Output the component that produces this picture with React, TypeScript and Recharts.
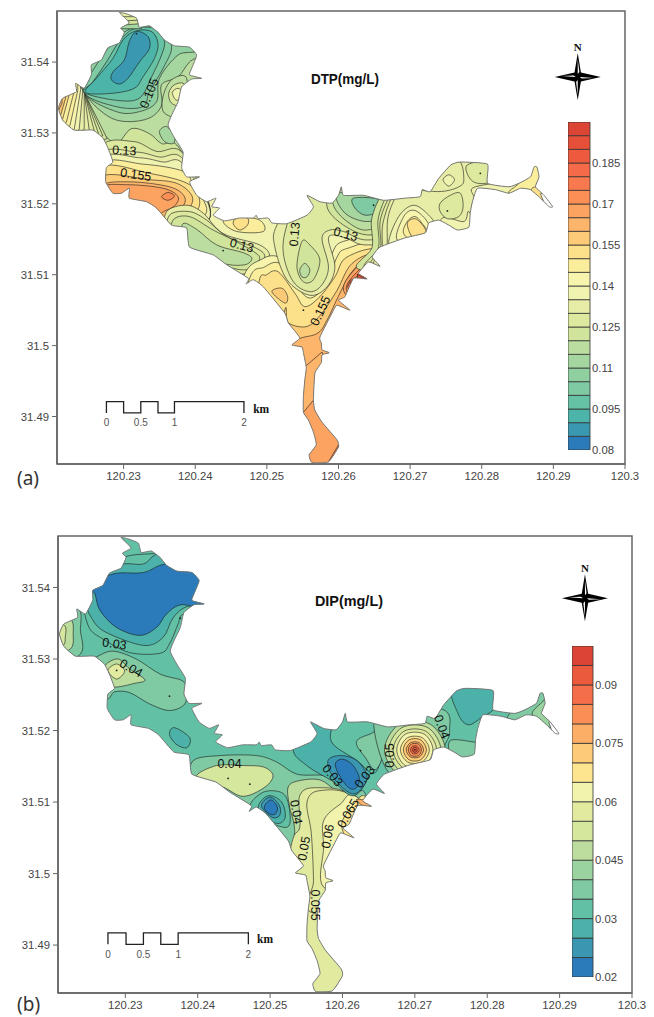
import React from 'react';
import { ScatterChart, Scatter, XAxis, YAxis, ReferenceArea, BarChart, Bar } from 'recharts';

// All map geometry is in units of 0.0001 degree, measured from 120.20E / 31.48N.
const BASE_LON = 120.2;
const BASE_LAT = 31.48;

const lonTicks = [120.23, 120.24, 120.25, 120.26, 120.27, 120.28, 120.29, 120.3];
const latTicks = [31.49, 31.5, 31.51, 31.52, 31.53, 31.54];
const lonDomain = [120.2207, 120.3];
const latDomain = [31.4833, 31.5472];

const lakeOutline = [294,670,304,668,318,662,322,649,336,651,348,642,357,631,371,623,392,621,402,610,397,596,392,582,409,577,395,576,381,565,376,544,367,525,362,511,371,493,383,473,381,451,388,438,406,438,392,431,402,412,416,403,429,408,423,396,434,394,425,384,441,376,462,380,481,380,485,384,488,379,502,380,507,373,528,372,556,384,565,396,556,412,574,403,591,401,600,412,604,424,607,412,635,412,663,405,693,408,714,410,717,420,728,417,740,436,757,455,770,459,808,456,808,429,838,424,852,429,868,438,873,452,877,452,880,438,875,424,887,412,899,396,894,396,882,408,868,420,854,422,838,415,819,420,794,422,787,403,784,388,782,367,766,363,754,370,740,377,726,373,721,359,693,352,658,339,647,325,658,312,642,318,628,302,640,294,621,295,609,269,600,264,616,250,598,257,593,250,574,212,576,204,577,194,587,190,577,187,576,176,567,161,565,123,567,109,577,92,598,67,600,57,586,36,563,35,559,46,569,60,565,78,558,95,551,106,551,128,553,152,555,169,551,190,549,198,535,201,546,211,530,232,525,246,495,283,481,293,471,287,474,295,444,314,425,328,392,339,388,366,367,370,346,394,332,403,308,408,308,422,297,415,285,415,275,431,276,451,285,459,278,479,271,493,257,504,231,504,215,518,209,535,215,549,234,558,233,570,245,563,255,582,255,596,269,603,278,620,294,627,301,642,296,648,308,655,301,663];

const dtpBandColors = ['#2b7bba','#3a98b0','#4cb4a8','#66c2a5','#7fc9a3','#90cfa0','#a6d69f','#bbdd9f','#d0e49c','#dde99f','#e7eda6','#f0f2b0','#f7f4ae','#faee9c','#fde08a','#fdcb78','#fdb56c','#fca362','#fb8f55','#f9794f','#f56a48','#ee5a3e','#e65039','#dc4535'];
const dipBandColors = ['#2b7bba','#3b96b1','#4cb2a9','#62c1a5','#7fc9a3','#9bd3a0','#bcdd9e','#d5e69d','#e2ea9f','#f2f3ad','#fde48f','#fdca78','#fcae66','#fa8f55','#f46e4a','#eb5a3c','#dc4535'];

type Layer = [number, number[], boolean?];

const sharedClose = [420,380,336,351,243,380];
const dtpLayers: Layer[] = [
  [7,[196,680,504,680,504,469,243,469,196,500],true],
  [8,[262,492,290,485,311,506,336,499,353,485,378,478,...sharedClose]],
  [6,[350,502,360,509,371,495,369,485,357,488]],
  [9,[266,478,313,488,346,474,383,471,...sharedClose]],
  [10,[266,469,318,473,350,466,383,463,...sharedClose]],
  [11,[266,463,322,465,355,459,383,456,...sharedClose]],
  [13,[266,456,327,456,383,446,397,427,416,389,383,365,336,351,243,380]],
  [14,[266,451,336,443,392,427,406,398,383,373,360,375,336,351,243,380]],
  [15,[266,438,336,434,374,429,395,412,392,394,369,372,336,356,243,380]],
  [16,[266,424,308,431,364,424,385,410,381,394,360,380,336,361,243,380]],
  [17,[266,422,304,427,355,422,376,410,370,396,353,387,336,365,243,380]],
  [18,[353,410,362,416,371,411,362,405]],
  // west lobe fan
  [8,[245,557,277,492,150,450,150,620,240,620],true],
  [8,[245,557,271,496,150,450,150,620,240,620],true],
  [9,[245,557,265,499,150,450,150,620,240,620],true],
  [9,[245,557,259,503,150,450,150,620,240,620],true],
  [10,[245,557,252,504,150,450,150,620,240,620],true],
  [10,[245,557,245,505,150,450,150,620,240,620],true],
  [11,[243,560,238,505,150,450,150,620,240,620],true],
  [12,[240,561,231,505,150,450,150,620,238,620],true],
  [13,[236,560,225,510,150,450,150,620,236,620],true],
  [13,[231,559,220,515,150,450,150,620,231,620],true],
  [14,[224,554,215,520,150,450,150,620,224,620],true],
  [15,[219,549,212,525,150,450,150,620,219,620],true],
  [16,[214,542,209,531,150,450,150,620,214,620],true],
  // north basin low
  [6,[245,557,276,525,304,516,336,521,353,539,353,568,376,579,392,600,420,624,355,671,266,633,224,610]],
  [5,[245,557,290,530,322,530,346,544,350,577,376,610,402,619,355,666,290,652,243,610]],
  [4,[245,557,290,537,327,537,336,558,355,591,367,622,350,647,318,650,290,633,262,596]],
  [3,[245,557,290,546,322,549,339,579,353,610,357,629,346,647,315,647,294,629,276,600,257,572]],
  [2,[247,557,285,556,315,563,327,579,343,605,348,626,339,643,317,644,299,631,285,605,262,577]],
  [1,[318,643,334,636,336,619,322,600,306,577,294,569,283,575,285,586,301,603,308,629]],
  [7,[355,551,367,575,388,577,383,525,357,528]],
  [9,[363,556,371,568,385,568,383,539,367,542]],
  [11,[368,557,376,563,382,556,374,546]],
  // north tip
  [6,[295,647,325,647,325,680,285,680],true],
  [8,[297,652,322,654,325,680,285,680],true],
  [9,[297,658,321,659,325,680,285,680],true],
  [10,[296,664,315,664,325,680,285,680],true],
  // neck and south shore
  [13,[439,375,458,382,490,377,495,361,458,361]],
  [14,[453,372,458,380,473,380,473,370,462,363]],
  [10,[360,389,388,398,411,387,439,358,490,342,504,325,490,302,458,297,388,321,360,358]],
  [9,[364,384,392,389,416,377,444,354,486,337,497,325,486,307,458,302,392,325,364,354]],
  [8,[369,377,392,382,425,363,453,349,481,333,490,323,479,309,453,309,397,330,369,349]],
  [7,[383,372,402,364,430,342,467,331,479,323,469,314,439,316,397,335,381,349]],
  [12,[465,288,495,323,521,323,539,297,560,278,579,295,591,330,607,347,663,351,719,288,644,147,458,147]],
  [13,[474,288,497,311,518,316,539,288,560,267,584,288,598,325,612,337,663,344,719,288,644,147,458,147]],
  [14,[488,283,500,300,516,304,539,274,553,255,574,269,595,297,612,325,663,335,719,288,644,147,481,147]],
  [15,[525,250,530,232,556,227,577,246,598,278,619,316,654,328,682,288,598,147,504,147]],
  [15,[507,276,521,281,529,269,525,260]],
  [16,[535,203,570,217,584,236,602,274,621,307,649,325,682,288,598,147,504,147]],
  [16,[553,170,577,191,640,20,500,20,500,100],true],
  [17,[551,106,565,123,640,60,620,20,500,20],true],
  [18,[586,36,600,60,660,60,650,10,575,10],true],
  [17,[607,278,626,311,649,323,682,316,644,250]],
  [18,[611,279,628,306,649,318,677,311,640,255]],
  [19,[613,283,630,301,647,314,668,307,635,264]],
  [21,[616,290,631,297,644,304,663,295,630,274]],
  [22,[626,301,640,293,628,290],true],
  // centre loop
  [10,[514,370,511,340,528,293,560,271,584,283,595,311,586,349,593,356,612,351,640,342,700,354,710,429,551,429]],
  [9,[528,370,523,330,537,290,560,276,577,286,586,311,577,351,588,363,607,361,640,349,691,363,710,429,551,429]],
  [8,[549,347,560,342,574,321,565,293,551,290,542,311]],
  [7,[546,307,553,316,560,307,556,297,549,297]],
  [8,[584,396,598,424,691,415,691,372,644,356,607,370]],
  [7,[593,398,600,419,672,415,677,382,640,363,612,375]],
  [6,[600,415,663,410,668,387,640,375,609,387]],
  [4,[621,408,656,406,654,389,637,384,623,394]],
  // east basin
  [8,[670,425,647,382,647,339,630,307,752,307,798,382,752,415,714,440]],
  [9,[677,425,656,382,656,339,640,307,752,307,798,382,752,415,714,440]],
  [9,[681,425,659,380,659,339,650,307,775,307,820,382,760,440,714,445]],
  [10,[684,425,663,377,661,339,658,307,798,307,845,363,892,457,728,457]],
  [10,[690,425,670,385,668,344,665,307,798,307,845,363,892,457,728,457]],
  [11,[670,344,684,382,705,398,726,384,735,368,724,351,686,330]],
  [12,[682,349,691,382,705,391,721,379,728,363,719,349]],
  [13,[691,358,696,375,707,382,717,372,724,358,710,344]],
  [14,[696,372,707,379,719,368,721,358,705,351]],
  [10,[714,424,728,418,749,418,768,424,775,434,767,462,728,462]],
  [11,[789,410,791,424,854,431,910,419,901,382,798,391]],
  [11,[745,380,775,375,782,389,794,354,742,349]],
  [9,[742,401,756,412,770,415,774,396,768,382,752,379,742,389]],
  [11,[746,434,754,441,762,434,754,425]],
  [9,[780,455,812,459,815,433,794,429,782,438]],
  [13,[838,414,853,430,882,466,920,457,910,363,868,396]],
  [14,[869,419,878,424,889,415,882,405]],
  [-1,[882,414,887,416,910,391,892,389],true],
];

const dipLayers: Layer[] = [
  [3,[242,579,250,544,269,528,306,509,348,508,361,521,373,549,380,563,417,577,412,652,348,648,292,640,250,600]],
  [2,[246,579,253,558,272,538,325,519,352,530,365,556,382,572,417,586,412,652,348,648,325,633,292,631,255,600]],
  [0,[251,600,283,619,325,621,357,633,412,628,417,572,378,576,357,563,343,544,320,533,288,544,265,568,258,591]],
  [4,[235,570,238,540,238,507,195,493,195,572]],
  [6,[224,556,228,535,224,514,195,507,195,558]],
  [7,[216,547,217,530,214,519,195,516,195,549]],
  [4,[260,503,283,511,315,500,348,479,378,470,384,458,382,437,361,428,334,437,306,453,285,454,274,444,242,456,242,493]],
  [6,[272,491,290,500,306,486,327,471,313,466,283,461,272,475]],
  [8,[276,484,288,493,299,483,288,472]],
  [2,[361,395,368,404,389,390,385,376,370,381]],
  [4,[394,358,431,365,481,365,509,356,537,339,574,337,592,326,610,312,615,309,633,307,643,190,495,190,431,284,394,330]],
  [7,[398,335,426,351,463,351,491,349,504,337,493,321,463,308,435,321]],
  [6,[525,321,541,330,569,331,592,316,617,309,689,237,643,181,532,190,534,260,527,293]],
  [8,[541,309,564,320,617,308,689,237,661,20,500,20,527,228,541,265]],
  [8,[551,300,569,316,617,307,689,237,689,145,559,145,560,190,557,256]],
  [9,[574,237,574,274,597,297,620,307,689,237,634,181,574,181]],
  [10,[599,270,620,302,633,307,661,274,615,246]],
  [12,[620,304,638,300,633,291,624,298]],
  [3,[472,293,491,314,518,312,527,288,524,265,495,274]],
  [2,[484,295,498,309,516,300,521,279,511,270,491,279]],
  [1,[488,295,500,307,513,295,513,281,502,279]],
  [0,[492,293,501,303,510,293,507,283,498,284]],
  [2,[555,412,532,374,552,350,585,330,617,309,643,349,652,377,652,407,624,442,564,442]],
  [3,[585,402,587,381,620,358,643,340,654,363,657,391,659,409,620,423,597,423]],
  [4,[620,379,622,388,638,395,654,400,656,367,645,345,631,363]],
  [1,[580,358,597,365,620,358,634,335,622,314,608,314,587,335]],
  [0,[590,353,599,360,613,353,623,335,620,321,610,319,597,335]],
  [4,[737,430,748,400,742,381,730,358,666,339,647,432]],
  [2,[753,461,813,465,811,433,793,419,774,408,760,423]],
  [4,[749,386,781,384,790,381,790,358,753,363]],
  [4,[829,414,836,428,883,456,896,405,850,405]],
  [5,[862,423,878,442,887,456,910,414,882,405]],
  // east high rings
  [6,[658,373,679,409,721,409,742,373,721,337,679,337]],
  [7,[664,373,682,404,718,404,736,373,718,342,682,342]],
  [8,[670,373,685,399,715,399,730,373,715,347,685,347]],
  [9,[675,373,687,395,713,395,725,373,713,351,687,351]],
  [10,[680,373,690,390,710,390,720,373,710,356,690,356]],
  [11,[684,373,692,387,708,387,716,373,708,359,692,359]],
  [12,[688,373,694,383,706,383,712,373,706,363,694,363]],
  [13,[691,373,695,381,705,381,709,373,705,365,695,365]],
  [14,[694,373,697,378,703,378,706,373,703,368,697,368]],
  [15,[697,373,698,376,702,376,703,373,702,370,698,370]],
  [-1,[885,412,889,416,905,391,892,391],true],
];

const dtpContourLabels: [number, number, string, number][] = [
  [336,556,'0.105',-68],[301,475,'0.13',3],[317,441,'0.155',8],[465,341,'0.13',15],
  [539,357,'0.13',-85],[610,357,'0.13',15],[575,249,'0.155',-65],
];
const dipContourLabels: [number, number, string, number][] = [
  [285,521,'0.03',8],[308,487,'0.04',30],[444,353,'0.04',0],[586,337,'0.03',50],[631,335,'0.03',-50],
  [666,365,'0.05',-90],[536,286,'0.04',80],[547,235,'0.05',-80],[580,252,'0.06',-80],[608,284,'0.065',-60],
  [562,156,'0.055',90],[737,405,'0.04',70],
];
const dtpStations = [439,334,649,398,551,250,798,443,752,390,318,640];
const dipStations = [288,484,361,448,376,557,442,333,472,325,625,372,700,373];

const dtpScaleBar = [276,105,276,121,300,121,300,105,324,105,324,121,348,121,348,105,371,105,371,121,468,121,468,105];
const dipScaleBar = [276,101,276,117,301,117,301,101,325,101,325,117,349,117,349,101,373,101,373,117,470,117,470,101];
const dtpScaleLabels: [number, number, string][] = [[276,91,'0'],[324,91,'0.5'],[371,91,'1'],[468,91,'2']];
const dipScaleLabels: [number, number, string][] = [[276,87,'0'],[325,87,'0.5'],[373,87,'1'],[470,87,'2']];

const dtpLegendTicks = [0.08,0.095,0.11,0.125,0.14,0.155,0.17,0.185];
const dipLegendTicks = [0.02,0.035,0.05,0.065,0.08,0.095];
const dipLegendLabels = ['0.02','0.03','0.045','0.06','0.075','0.09'];

const toPoints = (flat: number[]) => {
  const out: { lon: number; lat: number }[] = [];
  for (let i = 0; i < flat.length; i += 2) out.push({ lon: BASE_LON + flat[i] / 1e4, lat: BASE_LAT + flat[i + 1] / 1e4 });
  return out;
};

const smoothClosed = (p: { x: number; y: number }[], k = 6) => {
  const n = p.length;
  let d = `M${p[0].x},${p[0].y}`;
  for (let i = 0; i < n; i++) {
    const p0 = p[(i - 1 + n) % n], p1 = p[i], p2 = p[(i + 1) % n], p3 = p[(i + 2) % n];
    d += `C${p1.x + (p2.x - p0.x) / k},${p1.y + (p2.y - p0.y) / k} ${p2.x - (p3.x - p1.x) / k},${p2.y - (p3.y - p1.y) / k} ${p2.x},${p2.y}`;
  }
  return d + 'Z';
};
const straight = (p: { x: number; y: number }[], close: boolean) =>
  p.map((q, i) => `${i ? 'L' : 'M'}${q.x},${q.y}`).join('') + (close ? 'Z' : '');

const NoDot = () => null;

const NorthArrow = (props: any) => {
  const { cx, cy } = props;
  return (
    <g transform={`translate(${cx},${cy})`}>
      <text x={0} y={-26} textAnchor="middle" fontFamily="Liberation Serif" fontWeight="bold" fontSize={11} fill="#111">N</text>
      <path d="M0,-24L3.2,-4.5L23,0L3.2,4.5L0,23L-3.2,4.5L-23,0L-3.2,-4.5Z" fill="#000" />
      <path d="M-4,-4L0,-2L4,-4L2,0L4,4L0,2L-4,4L-2,0Z" fill="#000" />
      <path d="M0,-18L1.6,-5L0,-3Z M16,1L4,1.5L2,0Z M0,18L-1.6,5L0,3Z M-16,-1L-4,-1.5L-2,0Z" fill="#fff" />
    </g>
  );
};

const Title = (props: any) => (
  <text x={props.cx} y={props.cy} textAnchor="middle" dominantBaseline="central" textLength={68} lengthAdjust="spacingAndGlyphs"
    fontFamily="'Liberation Sans'" fontWeight="bold" fontSize={15.5} fill="#111">{props.payload.text}</text>
);

const ContourLabel = (props: any) => (
  <text x={props.cx} y={props.cy} textAnchor="middle" dominantBaseline="central"
    transform={`rotate(${props.payload.angle},${props.cx},${props.cy})`}
    fontFamily="Liberation Sans" fontSize={12.5} fill="#111">{props.payload.text}</text>
);
const ScaleLabel = (props: any) => (
  <text x={props.cx} y={props.cy} textAnchor="middle" dominantBaseline="central"
    fontFamily="Liberation Sans" fontSize={10} fill="#555">{props.payload.text}</text>
);
const KmLabel = (props: any) => (
  <text x={props.cx} y={props.cy} textAnchor="middle" dominantBaseline="central"
    fontFamily="Liberation Serif" fontWeight="bold" fontSize={11.5} fill="#111">km</text>
);
const Station = (props: any) => <circle cx={props.cx} cy={props.cy} r={0.9} fill="#222" />;

const labelRows = (rows: [number, number, string, number?][]) =>
  rows.map(r => ({ lon: BASE_LON + r[0] / 1e4, lat: BASE_LAT + r[1] / 1e4, text: r[2], angle: r[3] ?? 0 }));

function LakeMap(props: {
  id: string; layers: Layer[]; colors: string[]; contourLabels: [number, number, string, number][];
  stations: number[]; scaleBar: number[]; scaleLabels: [number, number, string][];
  km: [number, number]; north: [number, number]; title: [number, number, string];
  width: number; height: number; margin: any; yWidth: number; xHeight: number;
}) {
  const { id, layers, colors } = props;
  const clip = `url(#${id})`;
  const axisStyle = { fontFamily: 'Liberation Sans', fontSize: 11.3, fill: '#444' };
  return (
    <ScatterChart width={props.width} height={props.height} margin={props.margin}>
      <XAxis type="number" dataKey="lon" domain={lonDomain} allowDataOverflow ticks={lonTicks} interval={0}
        height={props.xHeight} tick={axisStyle} tickSize={5} tickMargin={3} stroke="#666" axisLine={{ stroke: '#666', strokeWidth: 1.5 }} />
      <YAxis type="number" dataKey="lat" domain={latDomain} allowDataOverflow ticks={latTicks} interval={0}
        width={props.yWidth} tick={axisStyle} tickSize={5} tickMargin={3} stroke="#666" axisLine={{ stroke: '#666', strokeWidth: 1.5 }} />
      <ReferenceArea x1={lonDomain[0]} x2={lonDomain[1]} y1={latDomain[0]} y2={latDomain[1]} fill="none" stroke="#666" strokeWidth={1.5} ifOverflow="visible" />
      <Scatter data={toPoints(lakeOutline)} shape={NoDot} isAnimationActive={false}
        line={(lp: any) => (
          <g>
            <clipPath id={id}><path d={smoothClosed(lp.points, 14)} /></clipPath>
            <path d={smoothClosed(lp.points, 14)} fill={colors[props.id === 'lakeA' ? 11 : 3]} stroke="none" />
          </g>
        )} />
      {layers.map((l, i) => (
        <Scatter key={i} data={toPoints(l[1])} shape={NoDot} isAnimationActive={false}
          line={(lp: any) => (
            <path d={l[2] ? straight(lp.points, true) : smoothClosed(lp.points)} clipPath={clip}
              fill={l[0] < 0 ? '#fff' : colors[l[0]]} stroke="#1a1a1a" strokeWidth={0.7} strokeOpacity={0.85} />
          )} />
      ))}
      <Scatter data={toPoints(lakeOutline)} shape={NoDot} isAnimationActive={false}
        line={(lp: any) => <path d={smoothClosed(lp.points, 14)} fill="none" stroke="#777" strokeWidth={1} />} />
      <Scatter data={toPoints(props.stations)} shape={Station} isAnimationActive={false} />
      <Scatter data={labelRows(props.contourLabels)} shape={ContourLabel} isAnimationActive={false} />
      <Scatter data={toPoints(props.scaleBar)} shape={NoDot} isAnimationActive={false}
        line={(lp: any) => <path d={straight(lp.points, false)} fill="none" stroke="#222" strokeWidth={1.3} />} />
      <Scatter data={labelRows(props.scaleLabels)} shape={ScaleLabel} isAnimationActive={false} />
      <Scatter data={toPoints(props.km)} shape={KmLabel} isAnimationActive={false} />
      <Scatter data={toPoints(props.north)} shape={NorthArrow} isAnimationActive={false} />
      <Scatter data={labelRows([props.title])} shape={Title} isAnimationActive={false} />
    </ScatterChart>
  );
}

function ColorBar(props: { colors: string[]; step: number; min: number; ticks: number[]; labels?: string[]; barWidth: number; height: number }) {
  const { colors, step, min, ticks, labels } = props;
  const row: Record<string, number> = { offset: min };
  colors.forEach((_, i) => { row[`b${i}`] = step; });
  const max = min + step * colors.length;
  return (
    <BarChart width={props.barWidth + 40} height={props.height + 16} data={[row]} margin={{ top: 8, bottom: 8, left: 0, right: 0 }} barCategoryGap={0}>
      <XAxis hide />
      <YAxis orientation="right" type="number" domain={[min, max]} allowDataOverflow ticks={ticks} interval={0} width={40} tickSize={0} tickMargin={2} axisLine={false}
        tick={{ fontFamily: 'Liberation Sans', fontSize: 11.3, fill: '#444' }}
        tickFormatter={(v: number) => labels ? labels[ticks.indexOf(v)] : String(v)} />
      <Bar dataKey="offset" stackId="s" fill="none" stroke="none" isAnimationActive={false} />
      {colors.map((c, i) => (
        <Bar key={i} dataKey={`b${i}`} stackId="s" fill={c} stroke="#333" strokeWidth={0.8} isAnimationActive={false} />
      ))}
    </BarChart>
  );
}

const panelLabel: React.CSSProperties = { position: 'absolute', left: 17, fontFamily: "'Noto Sans'", fontSize: 19, color: '#333', lineHeight: '20px' };

export default function App() {
  return (
    <div style={{ position: 'absolute', left: 0, top: 0, width: 654, height: 1017, overflow: 'hidden', background: '#fff' }}>
      <div style={{ position: 'absolute', left: 0, top: 0 }}>
        <LakeMap id="lakeA" layers={dtpLayers} colors={dtpBandColors} contourLabels={dtpContourLabels} stations={dtpStations}
          scaleBar={dtpScaleBar} scaleLabels={dtpScaleLabels} km={[492,111]} north={[934,579]} title={[609,577,'DTP(mg/L)']}
          width={654} height={490} margin={{ top: 11, right: 29, left: 0, bottom: 0 }} yWidth={57} xHeight={26} />
      </div>
      <div style={{ position: 'absolute', left: 0, top: 500 }}>
        <LakeMap id="lakeB" layers={dipLayers} colors={dipBandColors} contourLabels={dipContourLabels} stations={dipStations}
          scaleBar={dipScaleBar} scaleLabels={dipScaleLabels} km={[493,108]} north={[935,585]} title={[609,582,'DIP(mg/L)']}
          width={654} height={517} margin={{ top: 36, right: 22, left: 0, bottom: 0 }} yWidth={58} xHeight={24} />
      </div>
      <div style={{ position: 'absolute', left: 568, top: 114 }}>
        <ColorBar colors={dtpBandColors} step={0.005} min={0.08} ticks={dtpLegendTicks} barWidth={22} height={328} />
      </div>
      <div style={{ position: 'absolute', left: 572, top: 638 }}>
        <ColorBar colors={dipBandColors} step={0.005} min={0.02} ticks={dipLegendTicks} labels={dipLegendLabels} barWidth={21} height={331} />
      </div>
      <div style={{ ...panelLabel, top: 468 }}>(a)</div>
      <div style={{ ...panelLabel, top: 994 }}>(b)</div>
    </div>
  );
}
